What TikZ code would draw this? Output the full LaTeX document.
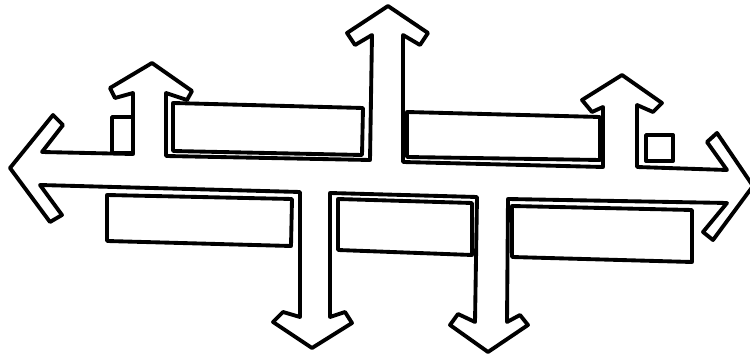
\documentclass[tikz,border=0pt]{standalone}
\begin{document}
\begin{tikzpicture}[x=0.02cm,y=-0.02cm,
  road/.style={draw=black,line width=2.2pt,line join=round},
  bldg/.style={draw=black,line width=2.2pt,line join=round}]
\useasboundingbox (0,0) rectangle (750,354);
\begin{scope}
\clip (0,0) rectangle (750,354);
% road network outline
\draw[road] (10,168) -- (53,115) -- (63,125) -- (42,152) -- (133,154)
  -- (133,93) -- (115,98) -- (110,88) -- (152,63) -- (192,91) -- (187,100) -- (166,93)
  -- (166,156) -- (370,160)
  -- (372,35) -- (355,45) -- (347,33) -- (388,6) -- (428,33) -- (420,45) -- (403,35)
  -- (403,162) -- (603,167)
  -- (603,107) -- (592,112) -- (582,100) -- (622,75) -- (662,103) -- (653,112) -- (637,105)
  -- (637,167) -- (727,170)
  -- (707,142) -- (717,133) -- (753,186) -- (713,240) -- (703,232) -- (727,203)
  -- (508,199)
  -- (507,322) -- (520,315) -- (528,325) -- (488,352) -- (450,325) -- (458,314) -- (475,322)
  -- (477,197) -- (330,193)
  -- (330,317) -- (345,312) -- (352,323) -- (312,348) -- (273,322) -- (283,312) -- (300,317)
  -- (300,192) -- (40,185)
  -- (62,215) -- (50,222) -- cycle;
\end{scope}
% buildings
\draw[bldg] (112,117) -- (133,117) -- (133,153) -- (112,153) -- cycle;
\draw[bldg] (173,103) -- (363,108) -- (362,155) -- (173,151) -- cycle;
\draw[bldg] (407,112) -- (600,117) -- (600,160) -- (407,157) -- cycle;
\draw[bldg] (646,135) -- (673,135) -- (673,161) -- (646,161) -- cycle;
\draw[bldg] (107,195) -- (292,199) -- (291,246) -- (107,241) -- cycle;
\draw[bldg] (338,199) -- (472,203) -- (472,255) -- (338,250) -- cycle;
\draw[bldg] (512,206) -- (692,210) -- (692,262) -- (512,257) -- cycle;
\end{tikzpicture}
\end{document}
